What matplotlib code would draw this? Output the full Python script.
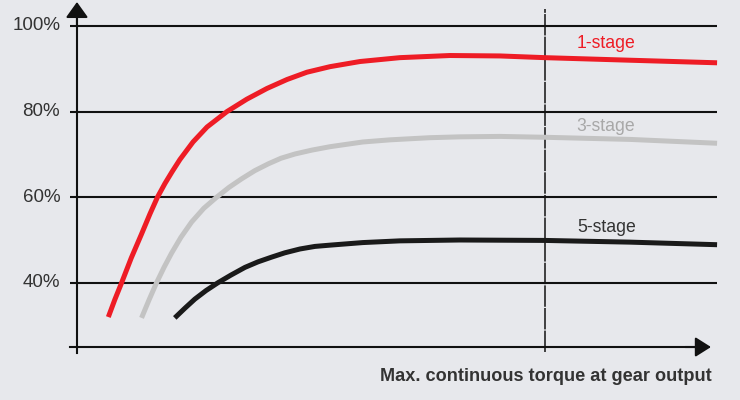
import matplotlib
matplotlib.use("Agg")
import matplotlib.pyplot as plt

# torque in % of max. continuous torque, efficiency in %
torque_1 = [6.7, 8.1, 9.5, 11.6, 13.8, 15.6, 17.2, 18.8, 20.3, 22.0, 24.8, 27.8,
            32.05, 36.3, 40.6, 44.9, 49.15, 54.1, 60.5, 69.0, 79.7, 90.4, 100, 118.2, 136.8]
eff_1 = [32.0, 36.1, 39.9, 45.8, 51.4, 56.1, 60.0, 63.2, 65.9, 68.8, 72.9, 76.4,
         80.0, 82.9, 85.4, 87.5, 89.2, 90.5, 91.7, 92.6, 93.1, 93.0, 92.6, 92.0, 91.4]

torque_3 = [13.8, 15.4, 17.0, 18.6, 20.2, 22.2, 24.5, 27.1, 29.85, 32.5, 35.2, 38.0,
            40.9, 43.6, 46.6, 50.2, 54.1, 61.1, 66.9, 75.4, 81.8, 90.4, 100, 118.2, 136.8]
eff_3 = [31.8, 36.0, 40.0, 43.6, 46.9, 50.6, 54.2, 57.4, 60.0, 62.3, 64.3, 66.2,
         67.8, 69.1, 70.1, 71.0, 71.8, 72.9, 73.4, 73.9, 74.1, 74.2, 74.0, 73.5, 72.6]

torque_5 = [20.9, 23.1, 25.2, 27.6, 30.1, 32.9, 35.9, 38.7, 41.6, 44.4, 47.65, 50.85,
            54.1, 61.1, 69.0, 81.8, 100, 118.2, 136.8]
eff_5 = [31.8, 34.1, 36.2, 38.2, 40.0, 41.8, 43.6, 44.9, 46.0, 47.0, 47.9, 48.5,
         48.8, 49.4, 49.8, 50.0, 49.9, 49.5, 48.9]

grid_vals = [100, 80, 60, 40]
grid_labels = ["100%", "80%", "60%", "40%"]
stage_labels = ["1-stage", "3-stage", "5-stage"]

bg = "#e7e8ec"
red = "#ee1c25"
grey = "#c3c3c3"
black = "#1a1a1a"

fig = plt.figure(figsize=(7.4, 4), dpi=100, facecolor=bg)
ax = fig.add_axes([0, 0, 1, 1])
ax.set_facecolor(bg)
ax.set_xlim(-16.45, 141.7)
ax.set_ylim(12.62, 106.07)
ax.axis("off")

# grid lines + labels
for v, lab in zip(grid_vals, grid_labels):
    ax.plot([-1.5, 136.8], [v, v], color="#111111", lw=1.5, solid_capstyle="butt")
    ax.text(-3.6, v, lab, ha="right", va="center", fontsize=13.5,
            family="Liberation Sans", color="#333333")

# axes with arrows
ax.plot([-1.5, 134], [25, 25], color="#111111", lw=1.5)
ax.plot([0, 0], [23.5, 103], color="#111111", lw=1.5)
ax.annotate("", xy=(135.5, 25), xytext=(130, 25),
            arrowprops=dict(arrowstyle="-|>,head_length=0.95,head_width=0.6",
                            mutation_scale=10, lw=1.5, color="#111111",
                            shrinkA=0, shrinkB=0))
ax.annotate("", xy=(0, 105.6), xytext=(0, 100),
            arrowprops=dict(arrowstyle="-|>,head_length=0.95,head_width=0.68",
                            mutation_scale=10, lw=1.5, color="#111111",
                            shrinkA=0, shrinkB=0))

# rated torque line
ax.plot([100, 100], [23.9, 104], color="#111111", lw=1.1, dashes=(14, 0.8))

# curves
for tx, ey, col in [(torque_1, eff_1, red), (torque_3, eff_3, grey), (torque_5, eff_5, black)]:
    ax.plot(tx, ey, color=col, lw=3.6, solid_capstyle="butt", solid_joinstyle="round")

ax.text(113, 96.0, stage_labels[0], ha="center", va="center", fontsize=12.7,
        family="Liberation Sans", color=red)
ax.text(113, 76.6, stage_labels[1], ha="center", va="center", fontsize=12.7,
        family="Liberation Sans", color="#a8a8a8")
ax.text(113.2, 52.9, stage_labels[2], ha="center", va="center", fontsize=12.7,
        family="Liberation Sans", color="#333333")

ax.text(135.6, 18.0, "Max. continuous torque at gear output", ha="right",
        va="center", fontsize=13.1, fontweight="bold",
        family="Liberation Sans", color="#333333")

fig.savefig("out.png", dpi=100, facecolor=bg)
